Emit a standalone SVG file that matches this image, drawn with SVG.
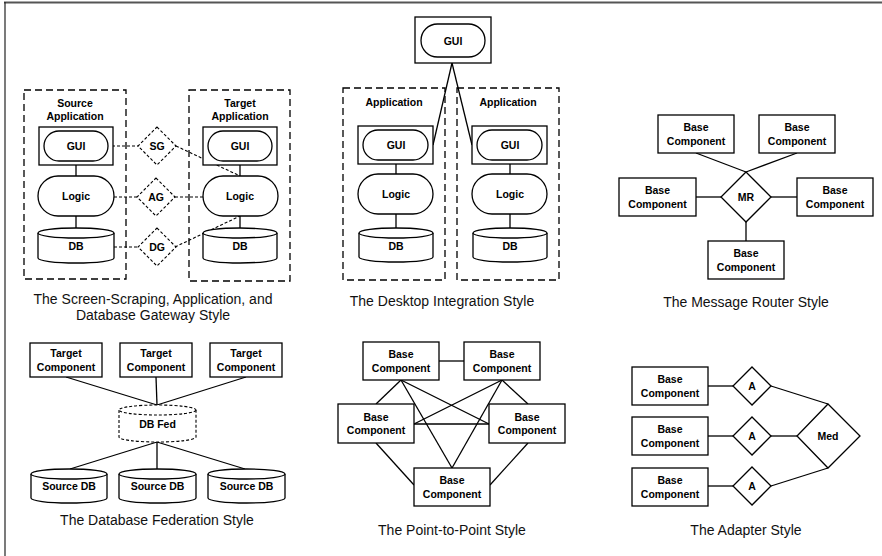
<svg xmlns="http://www.w3.org/2000/svg" width="882" height="556" viewBox="0 0 882 556">
<style>
.bx{fill:#fff;stroke:#000;stroke-width:1.3}
.ds{fill:none;stroke:#000;stroke-width:1.3;stroke-dasharray:7,4}
.dd{fill:#fff;stroke:#000;stroke-width:1.1;stroke-dasharray:3,2}
.ln{fill:none;stroke:#000;stroke-width:1.3}
.dl{fill:none;stroke:#000;stroke-width:1.1;stroke-dasharray:3,2}
.lb{font-family:"Liberation Sans",Arial,sans-serif;font-weight:bold;font-size:10.5px;text-anchor:middle;fill:#000}
.cp{font-family:"Liberation Sans",Arial,sans-serif;font-size:14px;text-anchor:middle;fill:#111}
</style>
<rect width="882" height="556" fill="#fff"/>
<g id="frame">
<line x1="4" y1="2.5" x2="882" y2="2.5" stroke="#555" stroke-width="2"/>
<line x1="5" y1="2" x2="5" y2="556" stroke="#222" stroke-width="1.2"/>
</g>

<!-- Screen scraping style -->
<g id="ss-source-app">
<rect class="ds" x="24" y="90" width="102" height="189"/>
<text class="lb" x="75" y="107">Source</text>
<text class="lb" x="75" y="120">Application</text>
</g>
<g id="ss-target-app">
<rect class="ds" x="189" y="90" width="101" height="191"/>
<text class="lb" x="240" y="107">Target</text>
<text class="lb" x="240" y="120">Application</text>
</g>
<g id="ss-connectors">
<line class="ln" x1="76" y1="165" x2="76" y2="176"/>
<line class="ln" x1="76" y1="216" x2="76" y2="228"/>
<line class="ln" x1="240" y1="165" x2="240" y2="176"/>
<line class="ln" x1="240" y1="216" x2="240" y2="228"/>
<line class="dl" x1="107" y1="146" x2="139" y2="146"/>
<line class="dl" x1="114" y1="197" x2="137" y2="197"/>
<line class="dl" x1="114" y1="247" x2="138" y2="247"/>
<line class="dl" x1="176" y1="146" x2="240" y2="176"/>
<line class="dl" x1="175" y1="197" x2="203" y2="197"/>
<line class="dl" x1="175" y1="247" x2="240" y2="216"/>
</g>
<g id="ss-src-gui">
<rect class="bx" x="39" y="127" width="74" height="38"/>
<rect class="bx" x="44" y="131" width="64" height="30" rx="15"/>
<text class="lb" x="76" y="150">GUI</text>
</g>
<g id="ss-src-logic">
<rect class="bx" x="38" y="176" width="76" height="40" rx="20"/>
<text class="lb" x="76" y="200">Logic</text>
</g>
<g id="ss-src-db">
<path class="bx" d="M38,233 V258 A38,5 0 0 0 114,258 V233"/>
<ellipse class="bx" cx="76" cy="233" rx="38" ry="5"/>
<text class="lb" x="76" y="250">DB</text>
</g>
<g id="ss-tgt-gui">
<rect class="bx" x="203" y="127" width="74" height="38"/>
<rect class="bx" x="208" y="131" width="64" height="30" rx="15"/>
<text class="lb" x="240" y="150">GUI</text>
</g>
<g id="ss-tgt-logic">
<rect class="bx" x="203" y="176" width="75" height="40" rx="20"/>
<text class="lb" x="240" y="200">Logic</text>
</g>
<g id="ss-tgt-db">
<path class="bx" d="M203,233 V258 A37,5 0 0 0 277,258 V233"/>
<ellipse class="bx" cx="240" cy="233" rx="37" ry="5"/>
<text class="lb" x="240" y="250">DB</text>
</g>
<g id="ss-sg">
<polygon class="dd" points="157,127 176,146 157,165 138,146"/>
<text class="lb" x="157" y="150">SG</text>
</g>
<g id="ss-ag">
<polygon class="dd" points="156,178 175,197 156,216 137,197"/>
<text class="lb" x="156" y="201">AG</text>
</g>
<g id="ss-dg">
<polygon class="dd" points="157,228 176,247 157,266 138,247"/>
<text class="lb" x="157" y="251">DG</text>
</g>
<text class="cp" x="153" y="304">The Screen-Scraping, Application, and</text>
<text class="cp" x="153" y="320">Database Gateway Style</text>

<!-- Desktop integration -->
<g id="di-connectors">
<line class="ln" x1="452" y1="63" x2="433" y2="145"/>
<line class="ln" x1="452" y1="63" x2="472" y2="145"/>
<line class="ln" x1="396" y1="164" x2="396" y2="174"/>
<line class="ln" x1="396" y1="214" x2="396" y2="228"/>
<line class="ln" x1="510" y1="164" x2="510" y2="174"/>
<line class="ln" x1="510" y1="214" x2="510" y2="228"/>
</g>
<g id="di-top-gui">
<rect class="bx" x="415" y="17" width="76" height="46"/>
<rect class="bx" x="421" y="24" width="64" height="33" rx="16.5"/>
<text class="lb" x="453" y="44.5">GUI</text>
</g>
<g id="di-app-left">
<rect class="ds" x="343" y="88" width="102" height="192"/>
<text class="lb" x="394" y="106">Application</text>
</g>
<g id="di-app-right">
<rect class="ds" x="457" y="88" width="102" height="192"/>
<text class="lb" x="508" y="106">Application</text>
</g>
<g id="di-l-gui">
<rect class="bx" x="358" y="126" width="75" height="38"/>
<rect class="bx" x="363" y="130" width="65" height="30" rx="15"/>
<text class="lb" x="396" y="149">GUI</text>
</g>
<g id="di-l-logic">
<rect class="bx" x="358" y="174" width="75" height="40" rx="20"/>
<text class="lb" x="396" y="198">Logic</text>
</g>
<g id="di-l-db">
<path class="bx" d="M359,233 V257 A37,5 0 0 0 433,257 V233"/>
<ellipse class="bx" cx="396" cy="233" rx="37" ry="5"/>
<text class="lb" x="396" y="250">DB</text>
</g>
<g id="di-r-gui">
<rect class="bx" x="472" y="126" width="75" height="38"/>
<rect class="bx" x="477" y="130" width="65" height="30" rx="15"/>
<text class="lb" x="510" y="149">GUI</text>
</g>
<g id="di-r-logic">
<rect class="bx" x="472" y="174" width="75" height="40" rx="20"/>
<text class="lb" x="510" y="198">Logic</text>
</g>
<g id="di-r-db">
<path class="bx" d="M473,233 V257 A37,5 0 0 0 547,257 V233"/>
<ellipse class="bx" cx="510" cy="233" rx="37" ry="5"/>
<text class="lb" x="510" y="250">DB</text>
</g>
<text class="cp" x="442" y="306">The Desktop Integration Style</text>

<!-- Message router -->
<g id="mr-connectors">
<line class="ln" x1="696" y1="153" x2="746" y2="172"/>
<line class="ln" x1="797" y1="153" x2="746" y2="172"/>
<line class="ln" x1="696" y1="197" x2="721" y2="197"/>
<line class="ln" x1="771" y1="197" x2="797" y2="197"/>
<line class="ln" x1="746" y1="222" x2="746" y2="241"/>
</g>
<g id="mr-tl"><rect class="bx" x="658" y="115" width="76" height="38"/><text class="lb" x="696" y="131">Base</text><text class="lb" x="696" y="144.5">Component</text></g>
<g id="mr-tr"><rect class="bx" x="759" y="115" width="76" height="38"/><text class="lb" x="797" y="131">Base</text><text class="lb" x="797" y="144.5">Component</text></g>
<g id="mr-l"><rect class="bx" x="619" y="178" width="77" height="38"/><text class="lb" x="657.5" y="194">Base</text><text class="lb" x="657.5" y="207.5">Component</text></g>
<g id="mr-r"><rect class="bx" x="797" y="178" width="76" height="38"/><text class="lb" x="835" y="194">Base</text><text class="lb" x="835" y="207.5">Component</text></g>
<g id="mr-b"><rect class="bx" x="708" y="241" width="76" height="38"/><text class="lb" x="746" y="257">Base</text><text class="lb" x="746" y="270.5">Component</text></g>
<g id="mr-router"><polygon class="bx" points="746,172 771,197 746,222 721,197"/><text class="lb" x="746" y="201">MR</text></g>
<text class="cp" x="746" y="307">The Message Router Style</text>

<!-- Database federation -->
<g id="df-connectors">
<line class="ln" x1="66" y1="377" x2="157" y2="405"/>
<line class="ln" x1="156" y1="377" x2="157" y2="405"/>
<line class="ln" x1="246" y1="377" x2="157" y2="405"/>
<line class="ln" x1="157" y1="442" x2="70" y2="469"/>
<line class="ln" x1="157" y1="442" x2="157" y2="469"/>
<line class="ln" x1="157" y1="442" x2="245" y2="469"/>
</g>
<g id="df-t1"><rect class="bx" x="30" y="343" width="72" height="34"/><text class="lb" x="66" y="357">Target</text><text class="lb" x="66" y="370.5">Component</text></g>
<g id="df-t2"><rect class="bx" x="120" y="343" width="72" height="34"/><text class="lb" x="156" y="357">Target</text><text class="lb" x="156" y="370.5">Component</text></g>
<g id="df-t3"><rect class="bx" x="210" y="343" width="72" height="34"/><text class="lb" x="246" y="357">Target</text><text class="lb" x="246" y="370.5">Component</text></g>
<g id="df-fed">
<path class="dd" d="M119,410 V437 A38.5,5 0 0 0 196,437 V410"/>
<ellipse class="dd" cx="157.5" cy="410" rx="38.5" ry="5"/>
<text class="lb" x="157.5" y="428">DB Fed</text>
</g>
<g id="df-s1">
<path class="bx" d="M31,474 V498 A38,5 0 0 0 107,498 V474"/>
<ellipse class="bx" cx="69" cy="474" rx="38" ry="5"/>
<text class="lb" x="69" y="490">Source DB</text>
</g>
<g id="df-s2">
<path class="bx" d="M119,474 V498 A38.5,5 0 0 0 196,498 V474"/>
<ellipse class="bx" cx="157.5" cy="474" rx="38.5" ry="5"/>
<text class="lb" x="157.5" y="490">Source DB</text>
</g>
<g id="df-s3">
<path class="bx" d="M208,474 V498 A38.5,5 0 0 0 285,498 V474"/>
<ellipse class="bx" cx="246.5" cy="474" rx="38.5" ry="5"/>
<text class="lb" x="246.5" y="490">Source DB</text>
</g>
<text class="cp" x="157" y="525">The Database Federation Style</text>

<!-- Point to point -->
<g id="pp-connectors">
<line class="ln" x1="439" y1="361" x2="464" y2="361"/>
<line class="ln" x1="401" y1="380" x2="376" y2="404"/>
<line class="ln" x1="401" y1="380" x2="489" y2="424"/>
<line class="ln" x1="401" y1="380" x2="452" y2="468"/>
<line class="ln" x1="502" y1="380" x2="528" y2="404"/>
<line class="ln" x1="502" y1="380" x2="414" y2="424"/>
<line class="ln" x1="502" y1="380" x2="452" y2="468"/>
<line class="ln" x1="414" y1="424" x2="489" y2="424"/>
<line class="ln" x1="376" y1="443" x2="414" y2="485"/>
<line class="ln" x1="528" y1="443" x2="490" y2="485"/>
</g>
<g id="pp-tl"><rect class="bx" x="363" y="342" width="76" height="38"/><text class="lb" x="401" y="358">Base</text><text class="lb" x="401" y="371.5">Component</text></g>
<g id="pp-tr"><rect class="bx" x="464" y="342" width="76" height="38"/><text class="lb" x="502" y="358">Base</text><text class="lb" x="502" y="371.5">Component</text></g>
<g id="pp-ml"><rect class="bx" x="338" y="404" width="76" height="39"/><text class="lb" x="376" y="420.5">Base</text><text class="lb" x="376" y="434">Component</text></g>
<g id="pp-mr"><rect class="bx" x="489" y="404" width="76" height="39"/><text class="lb" x="527" y="420.5">Base</text><text class="lb" x="527" y="434">Component</text></g>
<g id="pp-b"><rect class="bx" x="414" y="468" width="76" height="38"/><text class="lb" x="452" y="484">Base</text><text class="lb" x="452" y="497.5">Component</text></g>
<text class="cp" x="452" y="535">The Point-to-Point Style</text>

<!-- Adapter -->
<g id="ad-connectors">
<line class="ln" x1="708" y1="386" x2="733" y2="386"/>
<line class="ln" x1="708" y1="436" x2="733" y2="436"/>
<line class="ln" x1="708" y1="486" x2="733" y2="486"/>
<line class="ln" x1="771" y1="386" x2="828" y2="404"/>
<line class="ln" x1="771" y1="436" x2="797" y2="436"/>
<line class="ln" x1="771" y1="486" x2="828" y2="468"/>
</g>
<g id="ad-b1"><rect class="bx" x="632" y="367" width="76" height="38"/><text class="lb" x="670" y="383">Base</text><text class="lb" x="670" y="396.5">Component</text></g>
<g id="ad-b2"><rect class="bx" x="632" y="417" width="76" height="38"/><text class="lb" x="670" y="433">Base</text><text class="lb" x="670" y="446.5">Component</text></g>
<g id="ad-b3"><rect class="bx" x="632" y="468" width="76" height="38"/><text class="lb" x="670" y="484">Base</text><text class="lb" x="670" y="497.5">Component</text></g>
<g id="ad-a1"><polygon class="bx" points="752,367 771,386 752,405 733,386"/><text class="lb" x="752" y="390">A</text></g>
<g id="ad-a2"><polygon class="bx" points="752,417 771,436 752,455 733,436"/><text class="lb" x="752" y="440">A</text></g>
<g id="ad-a3"><polygon class="bx" points="752,467 771,486 752,505 733,486"/><text class="lb" x="752" y="490">A</text></g>
<g id="ad-med"><polygon class="bx" points="828,404 860,436 828,468 797,436"/><text class="lb" x="828" y="440">Med</text></g>
<text class="cp" x="746" y="535">The Adapter Style</text>
</svg>
